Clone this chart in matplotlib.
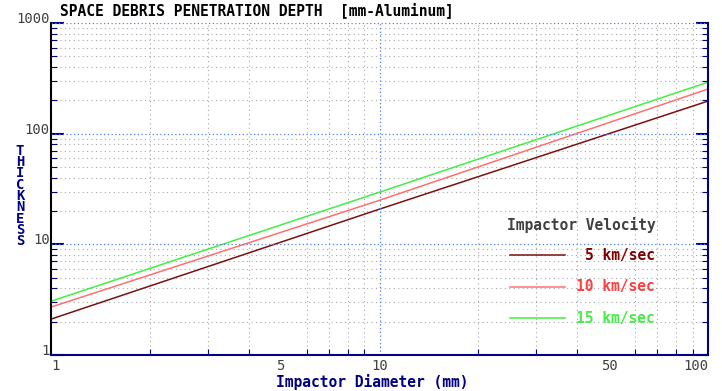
import matplotlib.pyplot as plt
from matplotlib.ticker import FixedLocator, LogLocator, NullFormatter

plt.rcParams["font.family"] = ["DejaVu Sans Mono"]

# values (log-log straight lines)
diameters = [1, 10, 100]
thick_5 = [2.11, 20.8, 197]
thick_10 = [2.71, 25.0, 253]
thick_15 = [3.06, 29.6, 292]
series_labels = ["5 km/sec", "10 km/sec", "15 km/sec"]
line_colors = ["#7a1010", "#ff7070", "#44ee44"]
text_colors = ["#800000", "#ff4040", "#44ee44"]

x_ticks = [1, 5, 10, 50, 100]
y_ticks = [1, 10, 100, 1000]

navy = "#000080"
gray = "#404040"
font_size = 10.5

fig = plt.figure(figsize=(7.22, 3.91), dpi=100)
ax = fig.add_axes([51 / 722, 36 / 391, 657 / 722, 332 / 391])

for ys, c in zip([thick_5, thick_10, thick_15], line_colors):
    ax.plot(diameters, ys, color=c, lw=1.1)

ax.set_xscale("log")
ax.set_yscale("log")
ax.set_xlim(1, 100)
ax.set_ylim(1, 1000)

# grid: gray dotted minor, blue dotted decades
ax.xaxis.set_minor_locator(LogLocator(base=10, subs=range(2, 10)))
ax.yaxis.set_minor_locator(LogLocator(base=10, subs=range(2, 10)))
ax.xaxis.set_minor_formatter(NullFormatter())
ax.yaxis.set_minor_formatter(NullFormatter())
ax.grid(which="minor", color="#a8a8a8", ls=(0, (1, 3)), lw=0.8)
for v in [10]:
    ax.axvline(v, color="#4a80ff", ls=(0, (1, 2)), lw=0.9)
for v in [10, 100, 1000]:
    ax.axhline(v, color="#4a80ff", ls=(0, (1, 2)), lw=0.9)

ax.xaxis.set_major_locator(FixedLocator(x_ticks))
ax.yaxis.set_major_locator(FixedLocator(y_ticks))
ax.set_xticklabels([str(t) for t in x_ticks])
ax.set_yticklabels([str(t) for t in y_ticks])

ax.tick_params(which="both", direction="in", color=navy, right=True, top=False)
ax.tick_params(which="major", length=9, width=1.5)
ax.tick_params(which="minor", length=4, width=0.8)
ax.tick_params(axis="x", which="major", length=0, pad=3, labelsize=10,
               labelcolor=gray)
ax.tick_params(axis="y", which="major", pad=1, labelsize=10,
               labelcolor=gray)
for lab in ax.get_yticklabels():
    lab.set_va("baseline")
xl = ax.get_xticklabels()
xl[0].set_ha("left")
xl[-1].set_ha("right")

ax.spines["top"].set_visible(False)
ax.spines["left"].set_color("black")
ax.spines["bottom"].set_color(navy)
ax.spines["right"].set_color(navy)
for s in ["left", "bottom", "right"]:
    ax.spines[s].set_linewidth(1.5)

fig.text(60 / 722, 1 - 10 / 391, "SPACE DEBRIS PENETRATION DEPTH  [mm-Aluminum]",
         ha="left", va="center", fontsize=font_size, fontweight="bold",
         color="black")
fig.text(372 / 722, 1 - 382 / 391, "Impactor Diameter (mm)", ha="center",
         va="center", fontsize=font_size, fontweight="bold", color=navy)
fig.text(20 / 722, 1 - 196 / 391, "\n".join("THICKNESS"), ha="center",
         va="center", fontsize=10, fontweight="bold", color=navy,
         linespacing=0.76)

# legend drawn by hand: line on the left, label right-aligned
ax.text(0.808, 0.392, "Impactor Velocity", transform=ax.transAxes,
        ha="center", va="center", fontsize=font_size, fontweight="bold",
        color=gray)
for i, (lab, lc, tc) in enumerate(zip(series_labels, line_colors, text_colors)):
    yy = [0.301, 0.205, 0.111][i]
    ax.plot([0.699, 0.782], [yy, yy], transform=ax.transAxes, color=lc, lw=1.1)
    ax.text(0.919, yy, lab, transform=ax.transAxes, ha="right", va="center",
            fontsize=font_size, fontweight="bold", color=tc)

fig.savefig("out.png", dpi=100)
